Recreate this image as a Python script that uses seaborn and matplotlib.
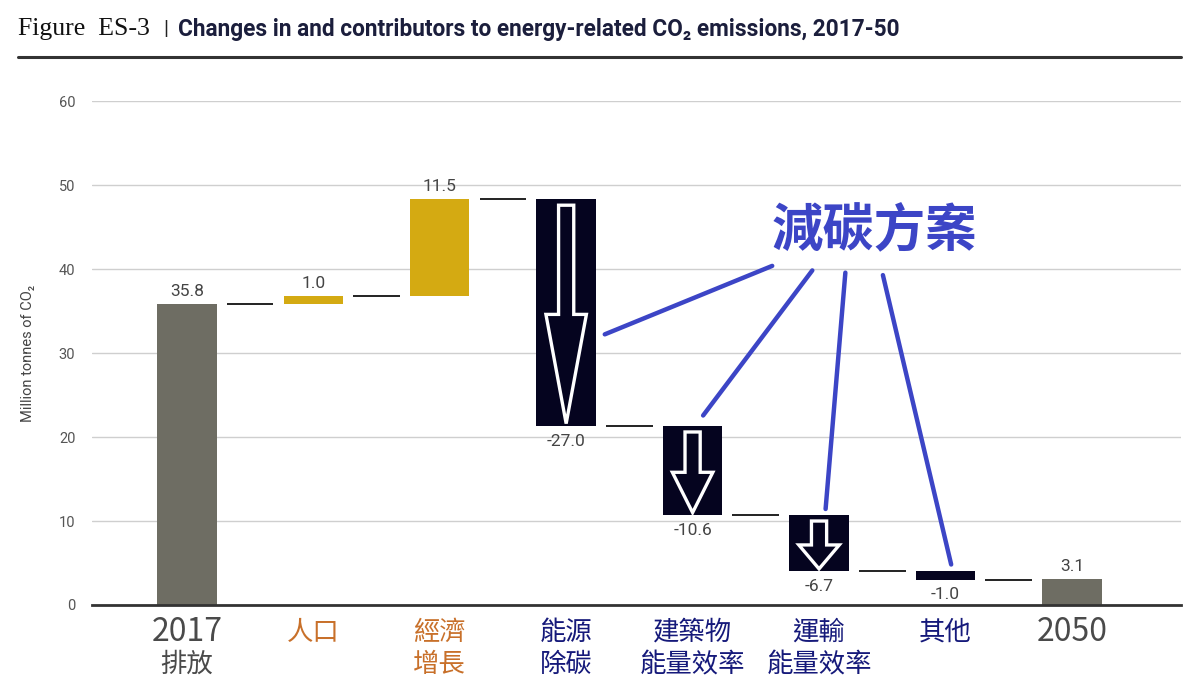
import numpy as np
import pandas as pd
import seaborn as sns
import matplotlib.pyplot as plt
from matplotlib.patches import FancyArrow
import matplotlib.transforms as mtransforms

# Data
categories = ["2017排放", "人口", "經濟增長", "能源除碳", "建築物能量效率", "運輸能量效率", "其他", "2050"]
tick_labels = ["2017\n排放", "人口", "經濟\n增長", "能源\n除碳", "建築物\n能量效率", "運輸\n能量效率", "其他", "2050"]
values = [35.8, 1.0, 11.5, -27.0, -10.6, -6.7, -1.0, 3.1]
kinds = ["total", "up", "up", "down", "down", "down", "down", "total"]
value_labels = ["35.8", "1.0", "11.5", "-27.0", "-10.6", "-6.7", "-1.0", "3.1"]
callout_text = "減碳方案"

# Colours
kind_colors = {"total": "#6e6d63", "up": "#d4aa12", "down": "#05041f"}
label_colors = {"total": "#4a4a4a", "up": "#c8702a", "down": "#15197a"}
blue = "#3c45c6"

# waterfall bottoms / heights
bottoms, heights, levels = [], [], []
running = 0.0
for v, k in zip(values, kinds):
    if k == "total":
        bottoms.append(0.0)
        heights.append(v)
        running = v
    else:
        bottoms.append(running + min(v, 0))
        heights.append(abs(v))
        running += v
    levels.append(running)

df = pd.DataFrame({"category": categories, "bottom": bottoms, "height": heights, "kind": kinds})

sns.set_theme(style="white")
narrow = ["Roboto", "DejaVu Sans"]
cjk = ["Noto Sans CJK TC", "DejaVu Sans"]
plt.rcParams["font.family"] = narrow

fig = plt.figure(figsize=(11.95, 6.97), dpi=100)
ax = fig.add_axes([0.077, 0.132, 0.911, 0.723])

bar_w = 0.47
sns.barplot(data=df, x="category", y="height", order=categories, bottom=df["bottom"].to_numpy(),
            width=bar_w, errorbar=None, color="#888888", ax=ax, zorder=3)
for patch, k in zip(ax.patches, kinds):
    patch.set_facecolor(kind_colors[k])
    patch.set_edgecolor("none")

ax.set_ylim(0, 60)
ax.set_xlim(-0.75, 7.86)
ax.set_yticks(np.arange(0, 61, 10))
ax.yaxis.grid(True, color="#cfcfcf", lw=1)
ax.set_axisbelow(True)
for s in ["top", "right", "left"]:
    ax.spines[s].set_visible(False)
ax.spines["bottom"].set_color("#333333")
ax.spines["bottom"].set_linewidth(2)
ax.spines["bottom"].set_zorder(4)
ax.tick_params(axis="y", length=0, labelsize=10.5, labelcolor="#555555", pad=12)
ax.set_xticks(range(len(categories)))
ax.set_xticklabels([])
ax.tick_params(axis="x", length=0)
ax.set_xlabel("")
ax.set_ylabel("Million tonnes of CO₂", fontsize=10.5, color="#444444")
ax.yaxis.set_label_coords(-0.052, 0.5)

# value labels
for i, (b, h, k, lab) in enumerate(zip(bottoms, heights, kinds, value_labels)):
    if k == "down":
        ax.text(i, b - 0.9, lab, ha="center", va="top", fontsize=12.5, color="#444444")
    else:
        ax.text(i, b + h + 0.6, lab, ha="center", va="bottom", fontsize=12.5, color="#444444")

# connectors
for i in range(len(categories) - 1):
    ax.hlines(levels[i], i + bar_w / 2 + 0.08, i + 1 - bar_w / 2 - 0.08, color="#111111", lw=1.3, zorder=3)

# white arrows inside the reduction bars
for i, (b, h, k) in enumerate(zip(bottoms, heights, kinds)):
    if k == "down" and h > 3:
        top = b + h - 0.7
        tip = b + 0.3
        length = top - tip
        ax.add_patch(FancyArrow(i, top, 0, -length, width=0.12, head_width=0.32,
                                head_length=0.5 * length, length_includes_head=True,
                                fc=kind_colors[k], ec="white", lw=2.4, zorder=5))

# callout
ax.text(5.44, 44.6, callout_text, ha="center", va="center", fontsize=37, color=blue,
        family=cjk, fontweight="semibold", zorder=6)
starts = [(4.65, 40.5), (4.96, 40.1), (5.21, 39.9), (5.50, 39.6)]
ends = [(3 + bar_w / 2 + 0.05, bottoms[3] + 0.4 * heights[3]),
        (4.07, bottoms[4] + heights[4] + 1.0),
        (5.05, bottoms[5] + heights[5] + 0.4),
        (6.05, bottoms[6] + heights[6] + 0.5)]
for s, e in zip(starts, ends):
    ax.annotate("", xy=e, xytext=s, arrowprops=dict(arrowstyle="-", color=blue, lw=3.2), zorder=6)

# category labels
trans = mtransforms.blended_transform_factory(ax.transData, ax.transAxes)
for i, (lab, k) in enumerate(zip(tick_labels, kinds)):
    for j, line in enumerate(lab.split("\n")):
        size = 23 if line.isdigit() else 19
        ax.text(i, -0.054 - j * 0.064, line, transform=trans, ha="center", va="center",
                fontsize=size, color=label_colors[k], family=cjk, fontweight="medium")

# title
fig.text(0.015, 0.958, "Figure  ES-3", fontsize=18.5, family=["Liberation Serif", "DejaVu Serif"],
         color="#111111", va="center")
fig.text(0.137, 0.958, "|", fontsize=15, color="#222222", va="center")
fig.text(0.149, 0.958, "Changes in and contributors to energy-related CO₂ emissions, 2017-50",
         fontsize=16.3, fontweight="bold", color="#1b1e3c", va="center")
fig.add_artist(plt.Line2D([0.015, 0.988], [0.918, 0.918], color="#333333", lw=2.2))

fig.savefig("out.png", dpi=100, facecolor="white")
